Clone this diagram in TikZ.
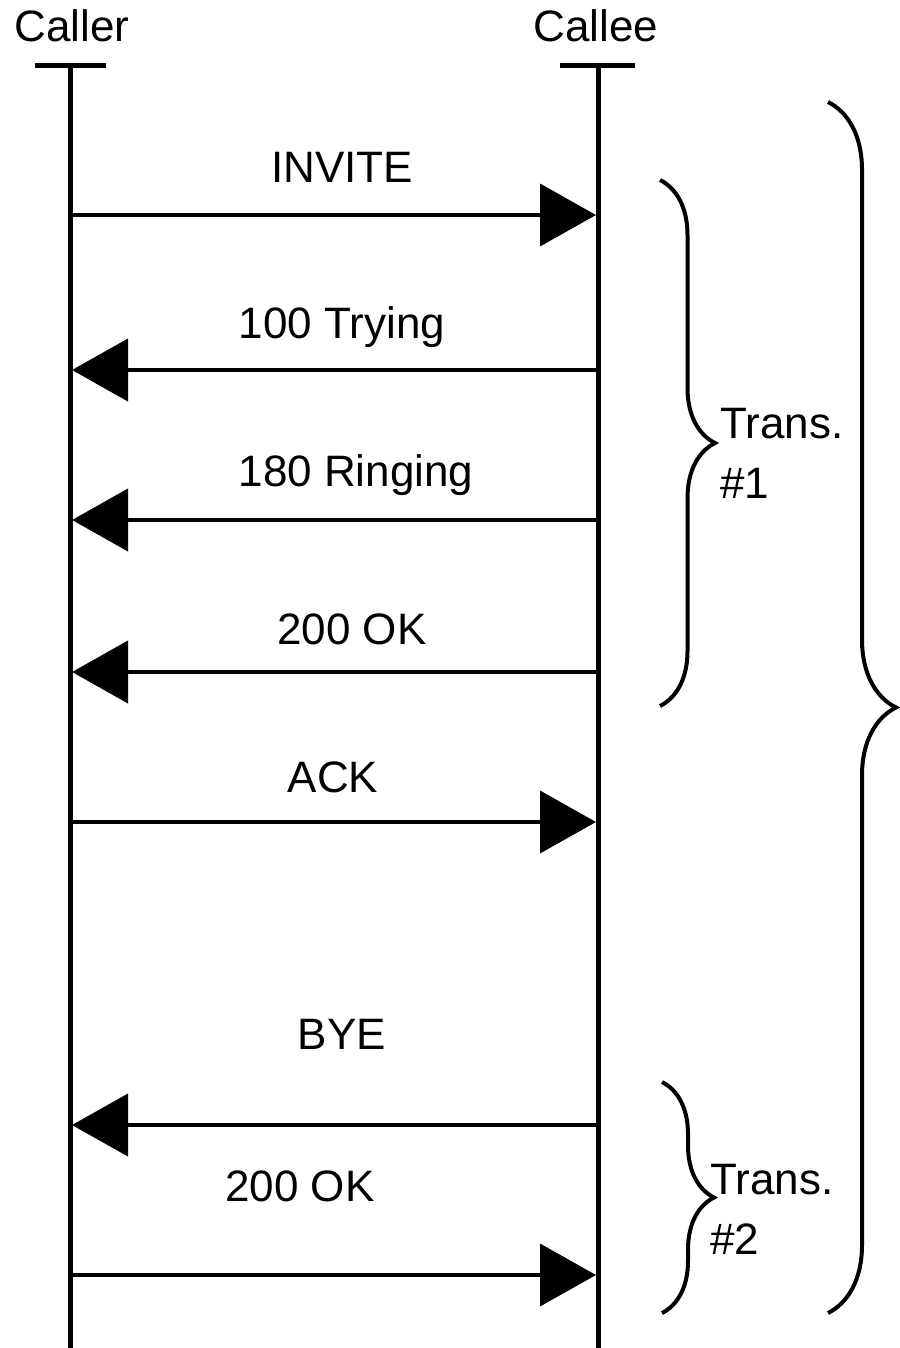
\documentclass[tikz,border=0pt]{standalone}
\usepackage{fontspec}
\setmainfont{Liberation Sans}
\usetikzlibrary{arrows.meta,decorations.pathreplacing}
\begin{document}
\begin{tikzpicture}[x=1pt,y=-1pt,
  lbl/.style={anchor=base,inner sep=0pt,font=\fontsize{44}{52}\selectfont},
  lblw/.style={anchor=base west,inner sep=0pt,font=\fontsize{44}{52}\selectfont},
  lifeline/.style={line width=5pt},
  topbar/.style={line width=5pt},
  msg/.style={line width=4pt,-{Triangle[length=56pt,width=62pt]}},
  brc/.style={line width=4pt,decorate,decoration={brace,amplitude=#1}}]
\useasboundingbox (0,0) rectangle (899,1348);
% headers
\node[lbl] (caller) at (72,42) {Caller};
\node[lbl] (callee) at (596,42) {Callee};
% lifeline ends
\coordinate (cTop) at (70,66);
\coordinate (cBot) at (70,1348);
\coordinate (eTop) at (598,66);
\coordinate (eBot) at (598,1348);
\coordinate (cBarL) at (35,66);
\coordinate (cBarR) at (106,66);
\coordinate (eBarL) at (560,66);
\coordinate (eBarR) at (635,66);
\draw[topbar] (cBarL) -- (cBarR);
\draw[topbar] (eBarL) -- (eBarR);
\draw[lifeline] (cTop) -- (cBot);
\draw[lifeline] (eTop) -- (eBot);
% message end points
\foreach \n/\y in {1/215,2/370,3/520,4/672,5/822,6/1125,7/1275}{
  \coordinate (c\n) at (72,\y);
  \coordinate (e\n) at (596,\y);
}
\draw[msg] (c1) -- (e1);
\draw[msg] (e2) -- (c2);
\draw[msg] (e3) -- (c3);
\draw[msg] (e4) -- (c4);
\draw[msg] (c5) -- (e5);
\draw[msg] (e6) -- (c6);
\draw[msg] (c7) -- (e7);
% labels
\node[lbl] (l1) at (342,183) {INVITE};
\node[lbl] (l2) at (342,338) {100 Trying};
\node[lbl] (l3) at (356,486) {180 Ringing};
\node[lbl] (l4) at (352,644) {200 OK};
\node[lbl] (l5) at (333,792) {ACK};
\node[lbl] (l6) at (342,1049) {BYE};
\node[lbl] (l7) at (300,1201) {200 OK};
% braces
\coordinate (b1a) at (660,180);
\coordinate (b1b) at (660,706);
\draw[brc=55pt] (b1a) -- (b1b);
\node[lblw] (t1) at (720,438) {Trans.};
\node[lblw] (t1n) at (720,498) {\#1};
\coordinate (b2a) at (662,1082);
\coordinate (b2b) at (662,1313);
\draw[brc=52pt] (b2a) -- (b2b);
\node[lblw] (t2) at (710,1194) {Trans.};
\node[lblw] (t2n) at (710,1254) {\#2};
\coordinate (b3a) at (828,102);
\coordinate (b3b) at (828,1313);
\draw[brc=68pt] (b3a) -- (b3b);
\end{tikzpicture}
\end{document}
